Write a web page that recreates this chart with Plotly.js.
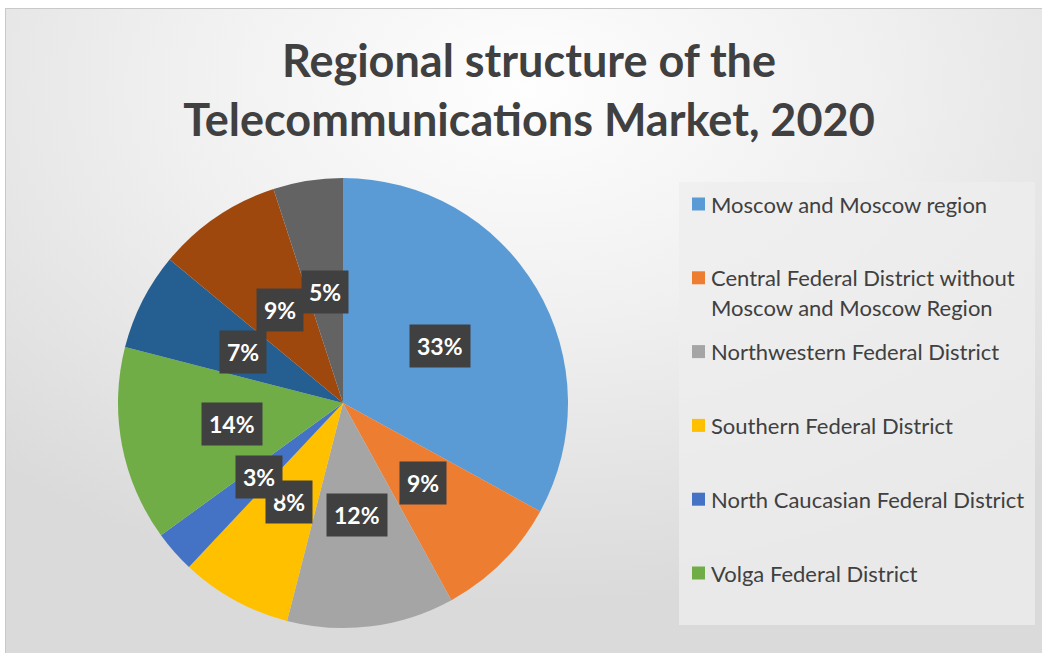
<!DOCTYPE html>
<html>
<head>
<meta charset="utf-8">
<script src="https://cdn.plot.ly/plotly-3.0.1.min.js"></script>
<style>
  html, body { margin: 0; padding: 0; background: #ffffff; }
  #frame {
    position: absolute; left: 5px; top: 8px; width: 1040px; height: 648px;
    border-left: 1px solid #c9c9c9; border-top: 1px solid #c9c9c9;
    background: radial-gradient(ellipse 75% 80% at 50% 12%, #fefefe 0%, #f0f0f0 45%, #dadada 100%);
  }
  #chart { position: absolute; left: 0; top: 0; width: 1042px; height: 653px; }
</style>
</head>
<body>
<div id="frame"></div>
<div id="chart"></div>
<script>
// ---- data ----
const regions = [
  "Moscow and Moscow region",
  "Central Federal District without<br>Moscow and Moscow Region",
  "Northwestern Federal District",
  "Southern Federal District",
  "North Caucasian Federal District",
  "Volga Federal District",
  "Ural Federal District",
  "Siberian Federal District",
  "Far Eastern Federal District"
];
const shares = [33, 9, 12, 8, 3, 14, 7, 9, 5];
const sliceColors = ["#5B9BD5", "#ED7D31", "#A5A5A5", "#FFC000", "#4472C4",
                     "#70AD47", "#255E91", "#9E480E", "#636363"];
const legendShown = 6; // legend in the reference is cut after six entries
const chartTitle = "Regional structure of the<br>Telecommunications Market, 2020";

// ---- layout geometry ----
const W = 1042, H = 653;
const cx = 343, cy = 403, R = 225;
const domX = [(cx - R) / W, (cx + R) / W];
const domY = [(H - (cy + R)) / H, (H - (cy - R)) / H];

const trace = {
  type: "pie",
  labels: regions,
  values: shares,
  sort: false,
  direction: "clockwise",
  rotation: 0,
  textinfo: "none",
  hoverinfo: "label+percent",
  marker: { colors: sliceColors, line: { width: 0 } },
  domain: { x: domX, y: domY },
  showlegend: false
};

const annotations = [];
const shapes = [];

// percentage labels, placed at each slice's mid-angle
const total = shares.reduce((a, b) => a + b, 0);
let cum = 0;
shares.forEach((v, i) => {
  const mid = (cum + v / 2) / total * 2 * Math.PI;
  cum += v;
  const px = cx + 0.5 * R * Math.sin(mid);
  const py = cy - 0.5 * R * Math.cos(mid);
  annotations.push({
    xref: "paper", yref: "paper",
    x: px / W, y: 1 - py / H,
    xanchor: "center", yanchor: "middle",
    showarrow: false,
    text: "<b>" + Math.round(v / total * 100) + "%</b>",
    font: { family: "Lato, 'Open Sans', sans-serif", size: 23, color: "#ffffff" },
    bgcolor: "#404040",
    borderpad: 7
  });
});

// legend box
shapes.push({
  type: "rect", xref: "paper", yref: "paper",
  x0: 679 / W, x1: 1035 / W, y0: 1 - 625 / H, y1: 1 - 182 / H,
  fillcolor: "rgba(238,238,238,0.75)", line: { width: 0 }, layer: "below"
});

const rowTop = 204, rowStep = 73.8, lineStep = 30;
for (let i = 0; i < legendShown; i++) {
  const ry = rowTop + i * rowStep;
  shapes.push({
    type: "rect", xref: "paper", yref: "paper",
    x0: 692 / W, x1: 705 / W, y0: 1 - (ry + 6.5) / H, y1: 1 - (ry - 6.5) / H,
    fillcolor: sliceColors[i], line: { width: 0 }
  });
  regions[i].split("<br>").forEach((ln, k) => {
    annotations.push({
      xref: "paper", yref: "paper",
      x: 709 / W, y: 1 - (ry + k * lineStep) / H,
      xanchor: "left", yanchor: "middle",
      showarrow: false, text: ln,
      font: { family: "Lato, 'Open Sans', sans-serif", size: 22, color: "#404040" }
    });
  });
}

const layout = {
  width: W, height: H,
  margin: { l: 0, r: 0, t: 0, b: 0 },
  paper_bgcolor: "rgba(0,0,0,0)",
  plot_bgcolor: "rgba(0,0,0,0)",
  title: {
    text: "<b>" + chartTitle + "</b>",
    x: 529 / W, xanchor: "center",
    y: 1 - 77 / H, yanchor: "middle",
    font: { family: "Lato, 'Open Sans', sans-serif", size: 45, color: "#404040" }
  },
  annotations: annotations,
  shapes: shapes
};

Plotly.newPlot("chart", [trace], layout, { displayModeBar: false, staticPlot: true });
</script>
</body>
</html>
